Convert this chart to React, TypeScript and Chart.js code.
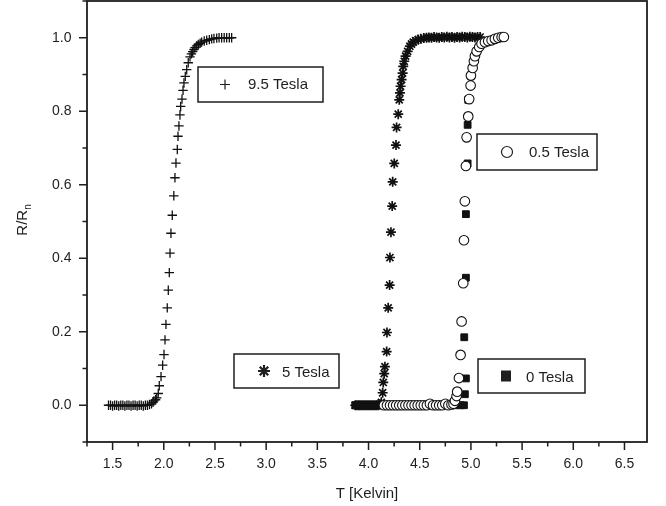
import React, { useEffect, useRef } from 'react';
import { Chart, registerables } from 'chart.js';

Chart.register(...registerables);

// ---------- axis ticks ----------
const X_TICKS = [1.25, 1.5, 1.75, 2.0, 2.25, 2.5, 2.75, 3.0, 3.25, 3.5, 3.75, 4.0, 4.25, 4.5, 4.75, 5.0, 5.25, 5.5, 5.75, 6.0, 6.25, 6.5];
const X_LABELED = [1.5, 2.0, 2.5, 3.0, 3.5, 4.0, 4.5, 5.0, 5.5, 6.0, 6.5];
const Y_TICKS = [-0.1, 0.0, 0.1, 0.2, 0.3, 0.4, 0.5, 0.6, 0.7, 0.8, 0.9, 1.0, 1.1];
const Y_LABELED = [0.0, 0.2, 0.4, 0.6, 0.8, 1.0];

// ---------- data: [T (Kelvin), R/Rn] ----------
const TESLA_9_5: [number, number][] = [
  [1.46, 0], [1.48, 0], [1.50, -0.002], [1.52, 0], [1.54, 0], [1.56, -0.002], [1.58, 0], [1.60, 0],
  [1.62, -0.002], [1.64, 0], [1.66, 0], [1.68, -0.002], [1.70, 0], [1.72, 0], [1.74, -0.002], [1.76, 0],
  [1.78, 0], [1.80, -0.002], [1.82, 0], [1.84, 0], [1.86, 0.002], [1.88, 0.004], [1.895, 0.008],
  [1.904, 0.012], [1.92, 0.015], [1.931, 0.02], [1.946, 0.032], [1.956, 0.053], [1.973, 0.078],
  [1.989, 0.109], [2.002, 0.138], [2.012, 0.178], [2.021, 0.22], [2.034, 0.265], [2.044, 0.313],
  [2.054, 0.361], [2.061, 0.414], [2.070, 0.468], [2.083, 0.517], [2.098, 0.570], [2.109, 0.619],
  [2.119, 0.659], [2.132, 0.696], [2.139, 0.732], [2.148, 0.760], [2.158, 0.790], [2.165, 0.813],
  [2.178, 0.833], [2.188, 0.857], [2.197, 0.877], [2.210, 0.895], [2.224, 0.913], [2.239, 0.932],
  [2.256, 0.948], [2.270, 0.956], [2.282, 0.962], [2.295, 0.968], [2.305, 0.973], [2.320, 0.978],
  [2.337, 0.982], [2.355, 0.985], [2.370, 0.988], [2.395, 0.991], [2.419, 0.993], [2.445, 0.995],
  [2.468, 0.997], [2.490, 0.998], [2.517, 0.999], [2.540, 1.0], [2.565, 1.0], [2.590, 1.0],
  [2.614, 1.0], [2.640, 1.0], [2.663, 1.0],
];

const TESLA_5: [number, number][] = [
  [3.870, 0], [3.885, 0], [3.900, 0], [3.915, 0], [3.930, 0], [3.945, 0], [3.960, 0], [3.975, 0],
  [3.990, 0], [4.005, 0], [4.020, 0], [4.035, 0], [4.050, 0], [4.065, 0], [4.080, 0], [4.095, 0],
  [4.110, 0.003], [4.125, 0.008], [4.138, 0.034], [4.144, 0.062], [4.153, 0.086], [4.160, 0.105],
  [4.177, 0.146], [4.180, 0.198], [4.192, 0.265], [4.206, 0.327], [4.209, 0.402], [4.219, 0.471],
  [4.231, 0.542], [4.236, 0.608], [4.251, 0.658], [4.268, 0.708], [4.274, 0.756], [4.290, 0.792],
  [4.300, 0.831], [4.307, 0.850], [4.313, 0.868], [4.323, 0.886], [4.333, 0.904], [4.339, 0.922],
  [4.349, 0.936], [4.362, 0.950], [4.382, 0.963], [4.404, 0.977], [4.420, 0.983], [4.437, 0.988],
  [4.460, 0.992], [4.485, 0.995], [4.510, 0.997], [4.540, 0.999], [4.567, 1.0], [4.590, 1.001],
  [4.615, 1.0], [4.640, 1.002], [4.665, 1.001], [4.690, 1.0], [4.715, 1.002], [4.740, 1.001],
  [4.765, 1.003], [4.790, 1.001], [4.815, 1.002], [4.840, 1.0], [4.865, 1.002], [4.890, 1.001],
  [4.915, 1.003], [4.940, 1.002], [4.965, 1.001], [4.990, 1.003], [5.015, 1.002], [5.040, 1.001],
  [5.065, 1.002], [5.090, 1.002],
];

const TESLA_0_5: [number, number][] = [
  [4.15, 0], [4.18, 0], [4.21, 0], [4.24, 0], [4.27, 0], [4.30, 0], [4.33, 0], [4.36, 0],
  [4.39, 0], [4.42, 0], [4.45, 0], [4.48, 0], [4.51, 0], [4.54, 0], [4.57, 0], [4.60, 0.004],
  [4.63, 0], [4.66, 0], [4.69, 0], [4.72, 0], [4.75, 0.004], [4.78, 0], [4.81, 0.002], [4.83, 0.004],
  [4.844, 0.012], [4.860, 0.025], [4.866, 0.037], [4.883, 0.074], [4.899, 0.137], [4.909, 0.228],
  [4.925, 0.332], [4.932, 0.449], [4.941, 0.555], [4.951, 0.651], [4.958, 0.729], [4.974, 0.786],
  [4.983, 0.833], [4.997, 0.870], [5.000, 0.897], [5.017, 0.918], [5.029, 0.936], [5.039, 0.950],
  [5.056, 0.963], [5.081, 0.975], [5.104, 0.984], [5.137, 0.988], [5.169, 0.991], [5.202, 0.993],
  [5.234, 0.997], [5.267, 1.0], [5.300, 1.002], [5.322, 1.002],
];

const TESLA_0: [number, number][] = [
  [3.87, 0], [3.89, 0], [3.91, 0], [3.93, 0], [3.95, 0], [3.97, 0], [3.99, 0], [4.01, 0],
  [4.03, 0], [4.05, 0], [4.07, 0], [4.09, 0], [4.11, 0], [4.13, 0], [4.16, 0], [4.20, 0],
  [4.25, 0], [4.30, 0], [4.35, 0], [4.40, 0], [4.45, 0], [4.50, 0], [4.55, 0], [4.60, 0],
  [4.65, 0], [4.70, 0], [4.75, 0], [4.80, 0], [4.85, 0], [4.90, 0], [4.932, 0],
  [4.941, 0.030], [4.951, 0.073], [4.935, 0.185], [4.951, 0.347], [4.951, 0.520], [4.968, 0.658],
  [4.968, 0.763], [4.974, 0.831], [5.000, 0.897], [5.029, 0.936], [5.056, 0.963], [5.104, 0.984],
  [5.169, 0.991], [5.234, 0.997], [5.300, 1.002],
];

const SERIES_LABELS = ['9.5 Tesla', '5 Tesla', '0.5 Tesla', '0 Tesla'];

// ---------- styling / layout ----------
const INK = '#1e1e1e';
const FONT = "'Liberation Sans', Arial, Helvetica, sans-serif";

const LEGEND_BOXES = [
  { label: SERIES_LABELS[0], kind: 'cross', x: 198, y: 67, w: 125, h: 35, mx: 225, tx: 248, base: 88.5 },
  { label: SERIES_LABELS[1], kind: 'star', x: 234, y: 354, w: 105, h: 34, mx: 264, tx: 282, base: 376.5 },
  { label: SERIES_LABELS[2], kind: 'circle', x: 477, y: 134, w: 120, h: 36, mx: 507, tx: 529, base: 157 },
  { label: SERIES_LABELS[3], kind: 'square', x: 478, y: 359, w: 107, h: 34, mx: 506, tx: 526, base: 381.5 },
];

const near = (arr: number[], v: number) => arr.some((a) => Math.abs(a - v) < 1e-6);
const toPts = (arr: [number, number][]) => arr.map(([x, y]) => ({ x, y }));

const decorPlugin = {
  id: 'decor',
  afterDraw(chart: any) {
    const { ctx, chartArea: a, scales } = chart;
    ctx.save();
    // frame
    ctx.strokeStyle = INK;
    ctx.lineWidth = 1.8;
    ctx.strokeRect(a.left, a.top, a.right - a.left, a.bottom - a.top);
    // ticks
    ctx.lineWidth = 1.5;
    ctx.beginPath();
    for (const v of X_TICKS) {
      const px = scales.x.getPixelForValue(v);
      const len = near(X_LABELED, v) ? 8 : 4.5;
      ctx.moveTo(px, a.bottom);
      ctx.lineTo(px, a.bottom + len);
    }
    for (const v of Y_TICKS) {
      const py = scales.y.getPixelForValue(v);
      const len = near(Y_LABELED, v) ? 8 : 4.5;
      ctx.moveTo(a.left, py);
      ctx.lineTo(a.left - len, py);
    }
    ctx.stroke();

    // y axis title R/R_n
    ctx.save();
    ctx.translate(27, 220);
    ctx.rotate(-Math.PI / 2);
    ctx.fillStyle = INK;
    ctx.textBaseline = 'alphabetic';
    ctx.font = `15px ${FONT}`;
    const main = 'R/R';
    const mw = ctx.measureText(main).width;
    ctx.font = `10px ${FONT}`;
    const sw = ctx.measureText('n').width;
    const start = -(mw + sw) / 2;
    ctx.font = `15px ${FONT}`;
    ctx.fillText(main, start, 0);
    ctx.font = `10px ${FONT}`;
    ctx.fillText('n', start + mw, 4);
    ctx.restore();

    // legend boxes
    for (const b of LEGEND_BOXES) {
      ctx.lineWidth = 1.5;
      ctx.strokeStyle = INK;
      ctx.strokeRect(b.x, b.y, b.w, b.h);
      const cy = b.y + b.h / 2;
      ctx.beginPath();
      if (b.kind === 'cross') {
        ctx.lineWidth = 1.2;
        ctx.moveTo(b.mx - 5, cy); ctx.lineTo(b.mx + 5, cy);
        ctx.moveTo(b.mx, cy - 5); ctx.lineTo(b.mx, cy + 5);
        ctx.stroke();
      } else if (b.kind === 'star') {
        ctx.lineWidth = 2.2;
        for (let i = 0; i < 4; i++) {
          const ang = (i * Math.PI) / 4;
          const dx = Math.cos(ang) * 6, dy = Math.sin(ang) * 6;
          ctx.moveTo(b.mx - dx, cy - dy); ctx.lineTo(b.mx + dx, cy + dy);
        }
        ctx.stroke();
      } else if (b.kind === 'circle') {
        ctx.lineWidth = 1.2;
        ctx.arc(b.mx, cy, 5.5, 0, Math.PI * 2);
        ctx.stroke();
      } else {
        ctx.fillStyle = INK;
        ctx.fillRect(b.mx - 5, cy - 5.5, 10, 11);
      }
      ctx.fillStyle = INK;
      ctx.font = `15px ${FONT}`;
      ctx.textBaseline = 'alphabetic';
      ctx.textAlign = 'left';
      ctx.fillText(b.label, b.tx, b.base);
    }
    ctx.restore();
  },
};

export default function App() {
  const ref = useRef<HTMLCanvasElement | null>(null);

  useEffect(() => {
    if (!ref.current) return;
    const chart = new Chart(ref.current, {
      type: 'scatter',
      data: {
        datasets: [
          {
            label: SERIES_LABELS[2],
            data: toPts(TESLA_0_5),
            pointStyle: 'circle',
            pointRadius: 4.8,
            borderWidth: 1.1,
            borderColor: '#111',
            backgroundColor: '#ffffff',
          },
          {
            label: SERIES_LABELS[3],
            data: toPts(TESLA_0),
            pointStyle: 'rect',
            pointRadius: 4.8,
            borderWidth: 1,
            borderColor: '#111',
            backgroundColor: '#111',
          },
          {
            label: SERIES_LABELS[1],
            data: toPts(TESLA_5),
            pointStyle: 'star',
            pointRadius: 5,
            borderWidth: 1.7,
            borderColor: '#111',
            backgroundColor: '#111',
          },
          {
            label: SERIES_LABELS[0],
            data: toPts(TESLA_9_5),
            pointStyle: 'cross',
            pointRadius: 4.7,
            borderWidth: 1.3,
            borderColor: '#111',
            backgroundColor: '#111',
          },
        ],
      },
      options: {
        animation: false,
        responsive: true,
        maintainAspectRatio: false,
        events: [],
        layout: { autoPadding: false, padding: { top: 1, right: 19, left: 0, bottom: 0 } },
        plugins: {
          legend: { display: false },
          tooltip: { enabled: false },
          title: { display: false },
        },
        scales: {
          x: {
            type: 'linear',
            position: 'bottom',
            min: 1.25,
            max: 6.72,
            afterBuildTicks: (scale: any) => {
              scale.ticks = X_TICKS.map((value) => ({ value }));
            },
            afterFit: (scale: any) => {
              scale.height = 64;
              scale.paddingLeft = 0;
              scale.paddingRight = 0;
              scale.paddingTop = 0;
              scale.paddingBottom = 0;
            },
            grid: {
              display: true,
              drawOnChartArea: false,
              drawTicks: true,
              tickLength: 8,
              tickColor: 'rgba(0,0,0,0)',
            },
            border: { display: false },
            ticks: {
              autoSkip: false,
              maxRotation: 0,
              minRotation: 0,
              padding: 6,
              color: INK,
              font: { family: FONT, size: 14 },
              callback: (value: any) => (near(X_LABELED, Number(value)) ? Number(value).toFixed(1) : ''),
            },
            title: {
              display: true,
              text: 'T [Kelvin]',
              color: INK,
              font: { family: FONT, size: 15 },
              padding: { top: 0, bottom: 3 },
            },
          },
          y: {
            type: 'linear',
            min: -0.1,
            max: 1.1,
            afterBuildTicks: (scale: any) => {
              scale.ticks = Y_TICKS.map((value) => ({ value }));
            },
            afterFit: (scale: any) => {
              scale.width = 87;
              scale.paddingLeft = 0;
              scale.paddingRight = 0;
              scale.paddingTop = 0;
              scale.paddingBottom = 0;
            },
            grid: {
              display: true,
              drawOnChartArea: false,
              drawTicks: true,
              tickLength: 8,
              tickColor: 'rgba(0,0,0,0)',
            },
            border: { display: false },
            ticks: {
              autoSkip: false,
              padding: 7.5,
              color: INK,
              font: { family: FONT, size: 14 },
              callback: (value: any) => (near(Y_LABELED, Number(value)) ? Number(value).toFixed(1) : ''),
            },
            title: { display: false },
          },
        },
      },
      plugins: [decorPlugin],
    });
    return () => chart.destroy();
  }, []);

  return (
    <div style={{ position: 'fixed', left: 0, top: 0, width: 666, height: 506, background: '#ffffff' }}>
      <canvas ref={ref} />
    </div>
  );
}
